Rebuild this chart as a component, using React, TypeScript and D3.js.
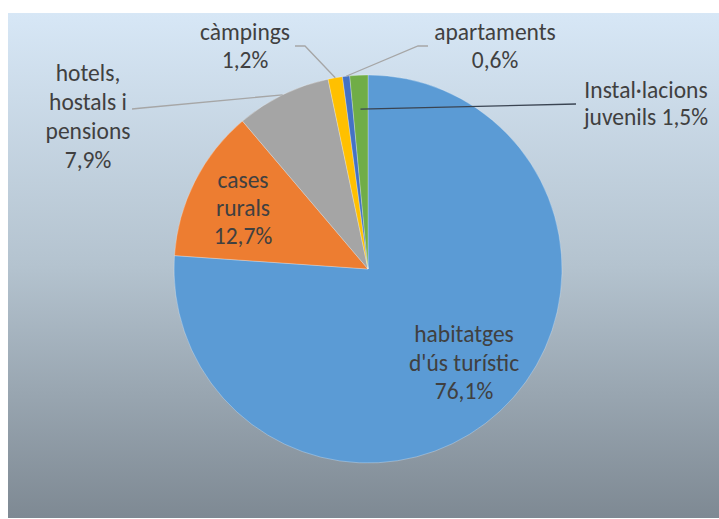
import React from "react";
import * as d3 from "d3";

const categories = [
  "habitatges d'ús turístic",
  "cases rurals",
  "hotels, hostals i pensions",
  "càmpings",
  "apartaments",
  "Instal·lacions juvenils",
];
const values = [76.1, 12.7, 7.9, 1.2, 0.6, 1.5];
const colors = ["#5b9bd5", "#ed7d31", "#a5a5a5", "#ffc000", "#4472c4", "#70ad47"];
// label lines (text) per category
const labelLines = [
  ["habitatges", "d'ús turístic", "76,1%"],
  ["cases", "rurals", "12,7%"],
  ["hotels,", "hostals i", "pensions", "7,9%"],
  ["càmpings", "1,2%"],
  ["apartaments", "0,6%"],
  ["Instal·lacions", "juvenils 1,5%"],
];

const W = 719;
const H = 519;
const cx = 368;
const cy = 269;
const R = 194;
const FONT = "Carlito, Calibri, 'Open Sans', sans-serif";

// label layout: [centre x, first baseline y, line height]
const labelPos: [number, number, number][] = [
  [464, 342, 28.5],
  [243, 188, 28],
  [88, 81, 29],
  [245, 40, 28],
  [495, 40, 28],
  [646, 98, 27],
];
// leader lines: label-side points (may be null for inside labels)
const leaderStart: ([number, number][] | null)[] = [
  null,
  null,
  [[132, 109], [142, 108]],
  [[295, 46], [305, 46]],
  [[428, 46], [418, 46]],
  [[576, 104]],
];
const leaderColor = [null, null, "#a6a6a6", "#a6a6a6", "#a6a6a6", "#3a4452"];
const leaderRadius = [0, 0, R, R, R, 160];

export default function App() {
  const pie = d3.pie<number>().sort(null).value((d) => d)(values);
  const arc = d3.arc<d3.PieArcDatum<number>>().innerRadius(0).outerRadius(R);
  const lineGen = d3.line();

  return (
    <svg
      width={W}
      height={H}
      style={{ position: "absolute", left: 0, top: 0, background: "#fff" }}
    >
      <defs>
        <linearGradient id="bg" x1="0" y1="0" x2="0" y2="1">
          <stop offset="0" stopColor="#d7e7f6" />
          <stop offset="0.5" stopColor="#b4c3cf" />
          <stop offset="1" stopColor="#7e8993" />
        </linearGradient>
      </defs>
      <rect x={8} y={13} width={W - 8} height={505} fill="url(#bg)" />
      <g transform={`translate(${cx},${cy})`}>
        {pie.map((p, i) => (
          <path
            key={i}
            d={arc(p) || ""}
            fill={colors[i]}
            stroke="#ffffff"
            strokeOpacity={0.35}
            strokeWidth={0.8}
          />
        ))}
      </g>
      {pie.map((p, i) => {
        const pts = leaderStart[i];
        if (!pts) return null;
        const mid = (p.startAngle + p.endAngle) / 2;
        const r = leaderRadius[i];
        const end: [number, number] = [cx + r * Math.sin(mid), cy - r * Math.cos(mid)];
        return (
          <path
            key={"l" + i}
            d={lineGen([...pts, end]) || ""}
            fill="none"
            stroke={leaderColor[i] || "#a6a6a6"}
            strokeWidth={1.3}
          />
        );
      })}
      {labelLines.map((lines, i) => (
        <text
          key={"t" + i}
          x={labelPos[i][0]}
          y={labelPos[i][1]}
          textAnchor="middle"
          fontFamily={FONT}
          fontSize={23.5}
          fill="#404040"
        >
          {lines.map((s, j) => (
            <tspan key={j} x={labelPos[i][0]} y={labelPos[i][1] + j * labelPos[i][2]}>
              {s}
            </tspan>
          ))}
        </text>
      ))}
    </svg>
  );
}
